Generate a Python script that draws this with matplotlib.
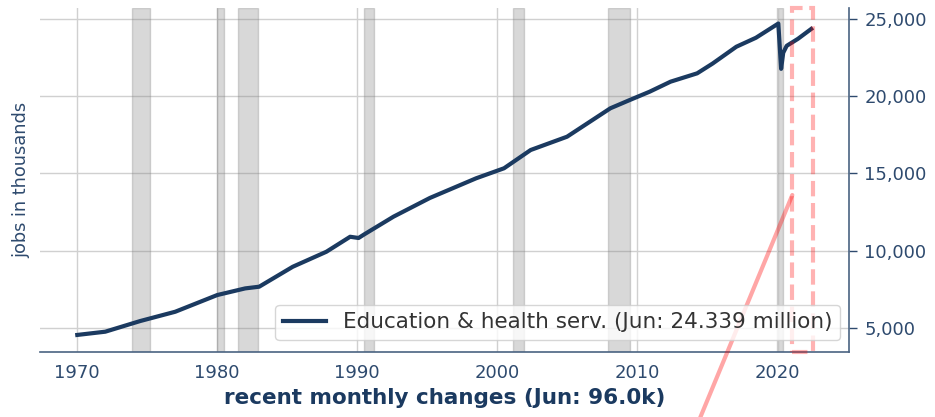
import matplotlib
matplotlib.use('Agg')
import matplotlib.pyplot as plt
from matplotlib.patches import Rectangle
from matplotlib.ticker import FuncFormatter

# Education & health services employment (thousands)
t_data = [1970.0, 1972.0, 1974.5, 1977.0, 1980.0, 1982.0, 1983.0, 1985.4, 1987.8,
          1989.5, 1990.1, 1990.5, 1992.6, 1995.2, 1998.5, 2000.5, 2002.4, 2005.0,
          2008.1, 2009.5, 2010.9, 2012.4, 2014.3, 2015.4, 2017.1, 2018.5, 2020.1,
          2020.3, 2020.45, 2020.7, 2021.5, 2022.45]
jobs = [4550, 4760, 5450, 6050, 7130, 7560, 7670, 8960, 9930,
        10900, 10820, 11050, 12200, 13410, 14680, 15330, 16510, 17370,
        19210, 19750, 20280, 20930, 21470, 22100, 23190, 23770, 24690,
        21760, 22800, 23250, 23700, 24339]

# recessions
rec_start = [1973.92, 1980.0, 1981.5, 1990.5, 2001.17, 2007.92, 2020.08]
rec_end = [1975.17, 1980.5, 1982.92, 1991.17, 2001.92, 2009.5, 2020.42]

# zoom window (recent months)
zoom_x = [2021.1, 2022.6]
link_y = 13600

label = 'Education & health serv. (Jun: 24.339 million)'
xlab = 'recent monthly changes (Jun: 96.0k)'
ylab = 'jobs in thousands'

navy = '#1b3a60'
tick_col = '#2e4a6e'
ylim = (3450, 25700)

fig = plt.figure(figsize=(9.35, 4.17), dpi=100)
ax = fig.add_axes([0.043, 0.156, 0.865, 0.825])

for a, b in zip(rec_start, rec_end):
    ax.axvspan(a, b, color='grey', alpha=0.3, zorder=1)

ax.plot(t_data, jobs, '-', color=navy, lw=3, label=label, zorder=3)

ax.set_xlim(1967.35, 2025.15)
ax.set_ylim(ylim)
ax.set_xticks([1970, 1980, 1990, 2000, 2010, 2020])
ax.set_yticks([5000, 10000, 15000, 20000, 25000])
ax.yaxis.set_major_formatter(FuncFormatter(lambda v, p: '{:,.0f}'.format(v)))
ax.grid(True, color='#d0d0d0', lw=1, zorder=0)
ax.set_axisbelow(True)

ax.yaxis.tick_right()
ax.tick_params(axis='y', colors=tick_col, labelsize=13, length=6, width=1, pad=5)
ax.tick_params(axis='x', colors=tick_col, labelsize=13, length=0, pad=9)

for side in ['top', 'left']:
    ax.spines[side].set_visible(False)
for side in ['bottom', 'right']:
    ax.spines[side].set_color('#4a6382')
    ax.spines[side].set_linewidth(1.2)

ax.set_xlabel(xlab, fontsize=15.5, fontweight='bold', color=navy, labelpad=4)
ax.set_ylabel(ylab, fontsize=12.8, color=tick_col)
ax.yaxis.set_label_coords(-0.012, 0.5)

leg = ax.legend(loc='lower right', fontsize=15.5, handlelength=2.0, framealpha=0.8,
                borderpad=0.35, borderaxespad=0, bbox_to_anchor=(0.989, 0.035))
for txt in leg.get_texts():
    txt.set_color('#333333')

# dashed box around the recent months + link line toward the (cut off) lower panel
rect = Rectangle((zoom_x[0], ylim[0]), zoom_x[1] - zoom_x[0], ylim[1] - ylim[0],
                 fill=False, edgecolor='red', alpha=0.3, lw=3, ls='--',
                 clip_on=False, zorder=4)
ax.add_patch(rect)
ax.annotate('', xy=(zoom_x[0], link_y), xycoords='data',
            xytext=(0.727, -0.12), textcoords='figure fraction',
            arrowprops=dict(arrowstyle='-', color='red', alpha=0.35, lw=3,
                            shrinkA=0, shrinkB=0),
            annotation_clip=False, zorder=4)

fig.savefig('out.png', dpi=100)
